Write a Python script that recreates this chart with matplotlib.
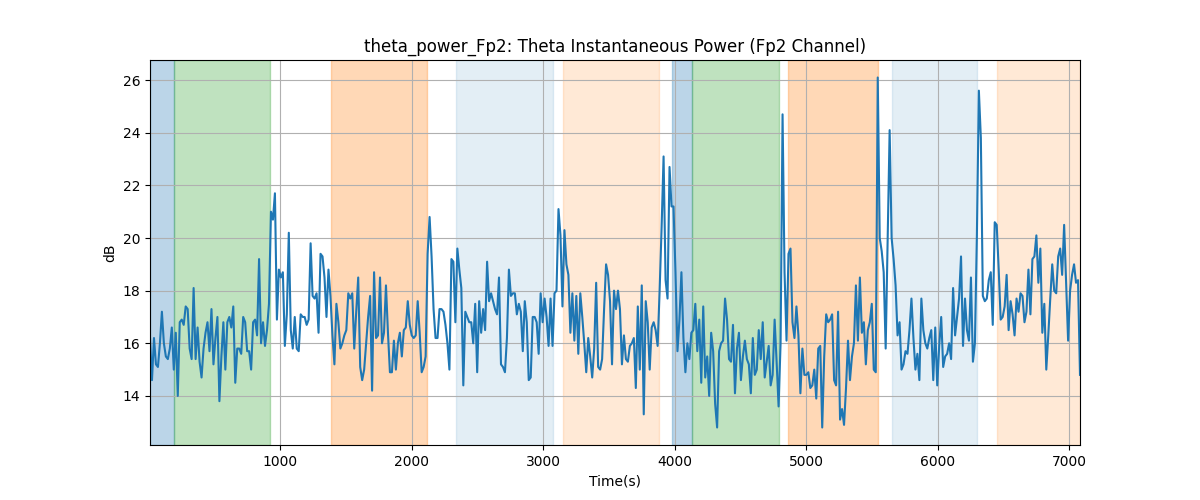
import matplotlib
matplotlib.use("Agg")
import matplotlib.pyplot as plt
import numpy as np

# theta power (dB), sampled uniformly from t_start to t_end
t_start, t_end = 12, 7081
power = [
    16.2, 14.6, 16.2, 15.2, 15.1, 16.0, 17.2, 16.0, 15.5, 15.4, 15.8, 16.6, 15.0, 16.4, 14.0,
    16.8, 16.9, 16.7, 17.4, 17.3, 15.8, 15.4, 18.1, 15.4, 16.6, 15.3, 14.7, 15.8, 16.4, 16.8,
    15.7, 17.3, 15.2, 16.2, 17.0, 13.8, 15.5, 16.8, 15.0, 16.8, 17.0, 16.6, 17.4, 14.5, 15.8,
    15.8, 15.6, 17.0, 16.8, 15.7, 15.7, 15.0, 16.8, 16.9, 16.3, 19.2, 16.0, 16.8, 15.9,
    # 265 px onward
    16.5, 17.5, 21.0, 20.7, 21.7, 16.9, 18.8, 18.5, 18.7, 15.9, 17.1, 20.2, 16.5, 15.8, 17.0,
    15.8, 15.7, 17.1, 17.0, 17.0, 16.7, 16.9, 19.8, 17.8, 17.7, 17.9, 16.4, 19.4, 19.3, 18.5,
    17.0, 18.8, 17.8, 16.3, 15.2, 17.5, 16.8, 15.8, 16.0, 16.3, 16.5, 17.9, 17.7, 17.9, 15.8,
    17.2, 18.5, 15.1, 14.6, 15.0, 16.0, 17.0, 17.8, 14.2, 18.7, 16.2, 16.3, 18.5,
    # 380 px onward
    16.0, 16.4, 18.2, 16.4, 14.9, 14.9, 16.1, 15.0, 16.0, 16.4, 15.5, 16.5, 16.6, 17.6, 16.7,
    16.3, 16.2, 16.3, 17.6, 16.4, 14.9, 15.1, 15.5, 19.4, 20.8, 19.3, 17.3, 16.2, 16.2, 17.3,
    17.3, 17.2, 16.7, 16.0, 15.0, 19.2, 19.1, 16.8, 19.6, 18.8, 18.1, 14.4, 17.2, 17.0, 16.8,
    16.8, 16.0, 17.5, 14.9, 17.6, 16.4, 17.3, 16.5, 19.1, 17.6, 17.9, 17.6, 17.3,
    # 495 px onward
    17.1, 18.5, 15.2, 15.1, 14.9, 16.2, 18.8, 17.8, 17.9, 17.9, 17.1, 17.5, 17.2, 15.7, 17.6,
    16.8, 14.6, 14.7, 17.0, 17.0, 16.8, 15.6, 17.9, 16.8, 17.7, 17.0, 15.9, 17.7, 15.9, 17.9,
    18.0, 21.1, 20.1, 17.4, 20.3, 19.0, 18.6, 16.4, 17.9, 16.1, 17.8, 15.6, 17.9, 17.0, 16.0,
    14.9, 16.2, 15.5, 14.7, 15.8, 18.3, 15.1, 15.0, 15.4, 17.3, 19.0, 18.6, 17.6, 15.2, 18.0,
    # 610 px onward
    17.3, 18.0, 17.3, 15.2, 16.3, 15.4, 15.3, 15.9, 16.0, 16.2, 14.3, 17.4, 15.0, 18.2, 13.3,
    17.6, 16.8, 15.0, 16.6, 16.8, 16.5, 15.9, 18.0, 20.4, 23.1, 18.4, 17.7, 22.7, 21.2, 21.2,
    18.7, 15.7, 16.9, 18.7, 16.2, 14.9, 16.0, 15.4, 16.4, 16.5, 17.5, 15.7, 16.9, 14.5, 17.4,
    14.7, 15.5, 14.0, 16.4, 15.7, 13.7, 12.8, 15.7, 16.0, 16.1, 17.7, 16.9,
    # 725 px onward
    15.4, 15.3, 16.7, 14.1, 15.8, 16.4, 14.6, 15.5, 16.1, 15.4, 15.2, 14.1, 16.2, 14.8, 15.0,
    16.5, 15.4, 16.8, 14.7, 15.3, 15.9, 14.4, 14.8, 16.9, 15.3, 13.6, 16.0, 24.7, 18.7, 16.1,
    19.4, 19.6, 16.8, 16.2, 17.4, 16.3, 14.1, 15.8, 14.8, 14.8, 14.9, 14.3, 14.4, 15.0, 13.9,
    15.8, 15.9, 12.8, 15.5, 17.1, 16.8, 16.9, 17.1, 14.6, 14.4, 17.2, 13.1, 13.5,
    # 840 px onward
    12.9, 14.3, 16.1, 14.6, 15.5, 16.0, 18.2, 16.1, 18.5, 16.4, 16.8, 15.2, 16.5, 16.8, 17.5,
    15.0, 14.9, 26.1, 20.0, 19.5, 18.7, 15.8, 20.0, 24.1, 20.0, 19.2, 18.2, 16.3, 16.8, 15.0,
    15.2, 15.7, 15.6, 16.5, 17.7, 16.2, 15.0, 15.6, 14.6, 17.7, 16.5, 16.0, 15.8, 16.2, 16.5,
    14.6, 16.6, 14.4, 15.9, 17.0, 15.1, 15.5, 15.6, 16.0, 15.4, 18.1,
    # 955 px onward
    16.3, 17.0, 17.7, 19.3, 15.9, 17.7, 16.5, 16.1, 18.5, 15.3, 16.0, 20.1, 25.6, 23.8, 17.8,
    17.6, 17.7, 18.4, 18.7, 16.7, 20.6, 20.5, 18.8, 16.9, 17.0, 17.4, 18.6, 16.5, 17.6, 17.1,
    16.3, 17.7, 17.2, 17.9, 17.8, 16.8, 17.2, 18.8, 17.1, 19.2, 19.3, 20.1, 18.3, 19.6, 16.4,
    17.5, 15.0, 16.3, 17.7, 19.0, 18.0, 17.9, 19.3, 19.6, 18.6, 20.5, 18.3, 16.1, 18.0, 18.6,
    19.0, 18.3, 18.4, 14.8,
]

# stage intervals (s) and their shading
span_starts = [12, 195, 1387, 2338, 3151, 3980, 4133, 4862, 5653, 6450]
span_ends = [195, 924, 2117, 3075, 3882, 4133, 4790, 5549, 6300, 7081]
span_colors = ['C0', 'C2', 'C1', 'C0', 'C1', 'C0', 'C2', 'C1', 'C0', 'C1']
span_alphas = [0.3, 0.3, 0.3, 0.12, 0.17, 0.3, 0.3, 0.3, 0.12, 0.17]

t = np.linspace(t_start, t_end, len(power))

fig, ax = plt.subplots(figsize=(12, 5), dpi=100)
for s, e, c, a in zip(span_starts, span_ends, span_colors, span_alphas):
    ax.axvspan(s, e, color=c, alpha=a)
ax.plot(t, power, color='C0', linewidth=1.5)
ax.set_xlim(t_start, t_end)
ax.grid(True)
ax.set_title("theta_power_Fp2: Theta Instantaneous Power (Fp2 Channel)")
ax.set_xlabel("Time(s)")
ax.set_ylabel("dB")
fig.savefig("out.png")
